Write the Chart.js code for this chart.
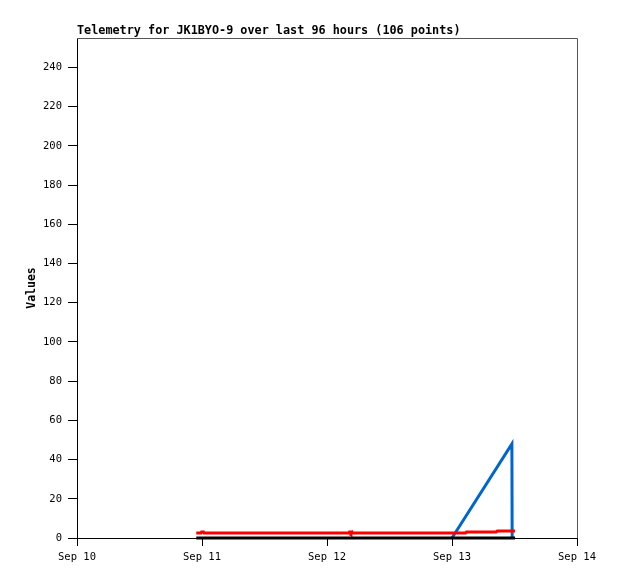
<!DOCTYPE html>
<html>
<head>
<meta charset="utf-8">
<script src="https://cdn.jsdelivr.net/npm/chart.js@4.4.1/dist/chart.umd.min.js"></script>
<style>
  html, body { margin: 0; padding: 0; background: #fff; }
  canvas { display: block; }
</style>
</head>
<body>
<canvas id="telemetry" width="618" height="579"></canvas>
<script>
// hours since Sep 10 00:00
var tickLabels = ["Sep 10", "Sep 11", "Sep 12", "Sep 13", "Sep 14"];
var titleText = "Telemetry for JK1BYO-9 over last 96 hours (106 points)";

var blackHours = [22.9, 84.1];
var blackValues = [0, 0];

var redHours = [22.9, 23.8, 23.9, 24.3, 24.4, 52.2, 52.3, 52.5, 52.6, 52.8, 52.9, 74.6, 74.8, 80.5, 80.7, 84.1];
var redValues = [2.5, 2.5, 3.0, 3.0, 2.5, 2.5, 3.0, 3.0, 2.5, 3.0, 2.5, 2.5, 3.1, 3.1, 3.6, 3.6];

var blueHours = [72.0, 83.5, 83.55];
var blueValues = [0, 48, 0];

function pts(xs, ys) {
    return xs.map(function (x, i) { return { x: x, y: ys[i] }; });
}

var monoFont = "'DejaVu Sans Mono', 'Liberation Mono', monospace";

var frame = {
    id: 'frame',
    afterDraw: function (chart) {
        var c = chart.ctx, a = chart.chartArea;
        c.save();
        c.strokeStyle = '#555';
        c.lineWidth = 1;
        c.beginPath();
        c.moveTo(a.left, a.top + 0.5);
        c.lineTo(a.right + 0.5, a.top + 0.5);
        c.lineTo(a.right + 0.5, a.bottom);
        c.stroke();
        c.fillStyle = '#000';
        c.font = 'bold 11.8px ' + monoFont;
        c.textBaseline = 'alphabetic';
        c.textAlign = 'left';
        c.fillText(titleText, a.left, 34);
        c.translate(35, (a.top + a.bottom) / 2);
        c.rotate(-Math.PI / 2);
        c.textAlign = 'center';
        c.font = 'bold 11.5px ' + monoFont;
        c.fillText('Values', 0, 0);
        c.restore();
    }
};

var ctx = document.getElementById('telemetry').getContext('2d');
new Chart(ctx, {
    type: 'line',
    data: {
        datasets: [
            { label: 'zero', data: pts(blackHours, blackValues), borderColor: '#000', borderWidth: 3 },
            { label: 'red', data: pts(redHours, redValues), borderColor: '#ff0000', borderWidth: 3 },
            { label: 'blue', data: pts(blueHours, blueValues), borderColor: '#0066cc', borderWidth: 3 }
        ]
    },
    options: {
        responsive: false,
        animation: false,
        devicePixelRatio: 1,
        clip: false,
        elements: { point: { radius: 0 }, line: { tension: 0, borderJoinStyle: 'miter' } },
        layout: { padding: { top: 38, right: 41, left: 0, bottom: 0 } },
        plugins: { legend: { display: false }, tooltip: { enabled: false }, title: { display: false } },
        scales: {
            x: {
                type: 'linear',
                min: 0,
                max: 96,
                afterFit: function (s) { s.height = 41; },
                ticks: {
                    stepSize: 24,
                    includeBounds: false,
                    autoSkip: false,
                    maxRotation: 0,
                    padding: 5,
                    color: '#000',
                    font: { family: monoFont, size: 10.5 },
                    callback: function (v) { return tickLabels[Math.round(v / 24)]; }
                },
                grid: { drawOnChartArea: false, drawTicks: true, tickLength: 8, color: '#000' },
                border: { color: '#000', width: 1 }
            },
            y: {
                min: 0,
                max: 255,
                afterFit: function (s) { s.width = 77; },
                ticks: {
                    stepSize: 20,
                    includeBounds: false,
                    padding: 6,
                    color: '#000',
                    font: { family: monoFont, size: 10.5 }
                },
                grid: { drawOnChartArea: false, drawTicks: true, tickLength: 9, color: '#000' },
                border: { color: '#000', width: 1 }
            }
        }
    },
    plugins: [frame]
});
</script>
</body>
</html>
